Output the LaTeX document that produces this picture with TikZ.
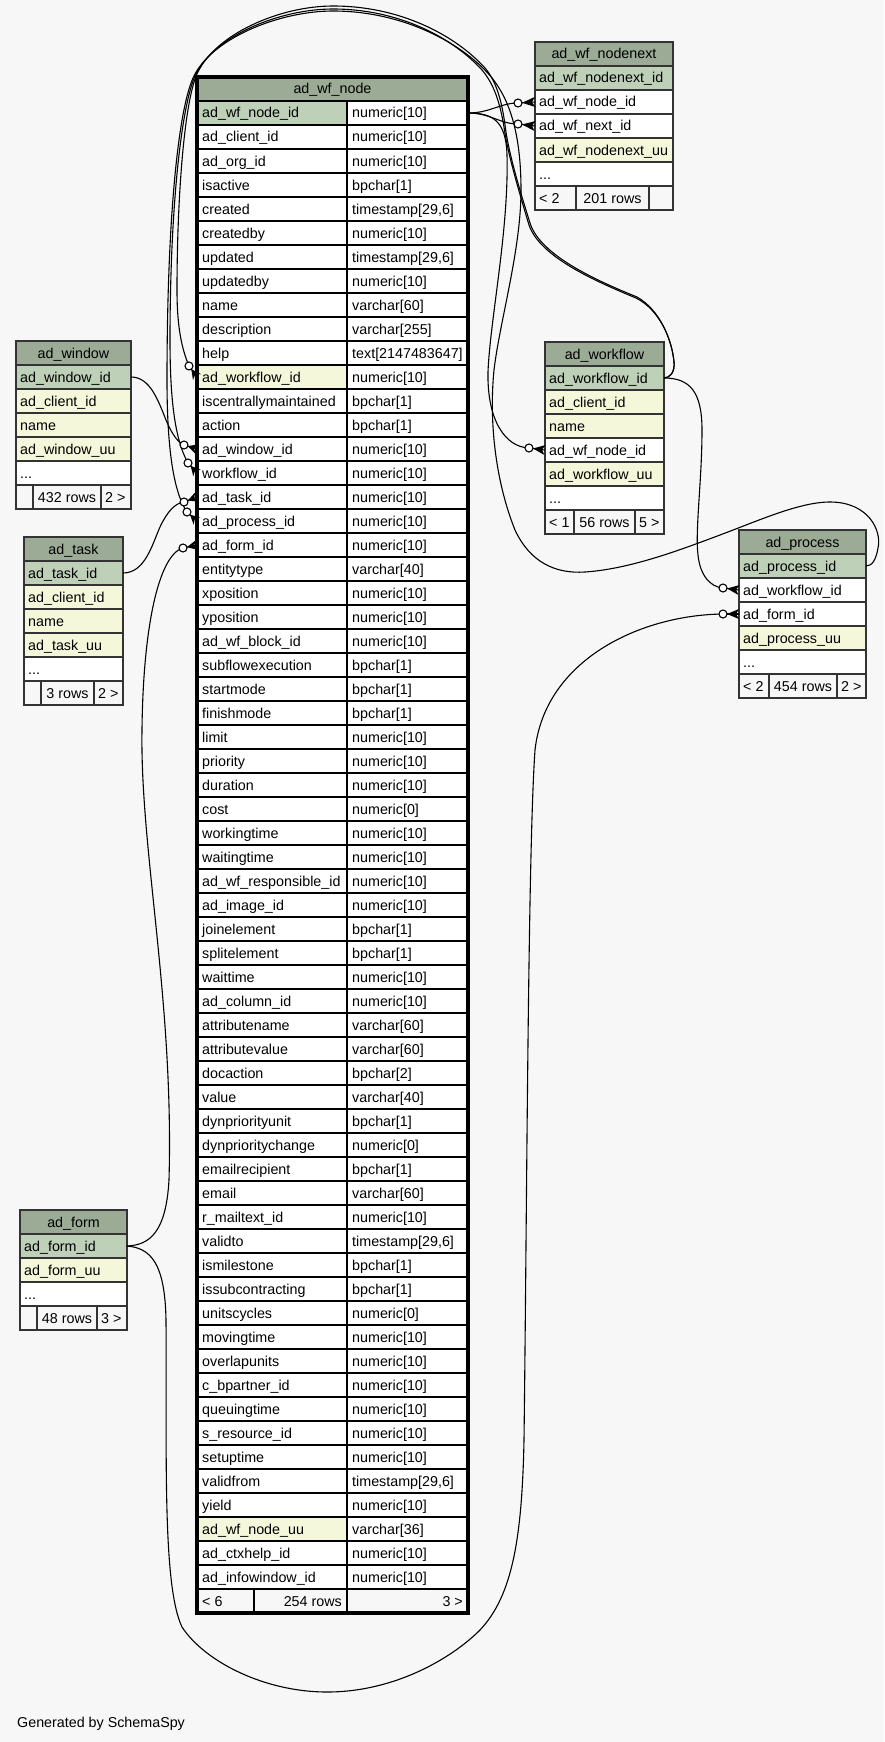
\documentclass[tikz,border=0pt]{standalone}
\usepackage{fontspec}
\setmainfont{Liberation Sans}
\usetikzlibrary{calc}
\definecolor{bgc}{HTML}{F7F7F7}
\definecolor{hdr}{HTML}{9BAB96}
\definecolor{pk}{HTML}{BED1B8}
\definecolor{idx}{HTML}{F4F7DA}
\definecolor{wht}{HTML}{FFFFFF}
\definecolor{ftr}{HTML}{F7F7F7}
\definecolor{sline}{HTML}{333333}
\newcommand\fsz{\fontsize{14.3}{17}\selectfont}
\newcommand\scellrow[6]{%
  \node[scell, minimum width=#4, fill=#5] (#1) at (#2,#3) {};
  \node[ctext] at ([xshift=4pt,yshift=7pt]#1.south west) {#6};}
\newcommand\scellc[6]{%
  \node[scell, minimum width=#4, fill=#5] (#1) at (#2,#3) {};
  \node[ctext, anchor=base] at ([yshift=7pt]#1.south) {#6};}
\newcommand\shead[5]{%
  \node[scell, minimum width=#4, fill=hdr] (#1) at (#2,#3) {};
  \node[ctext, anchor=base] at ([yshift=7pt]#1.south) {#5};}
\newcommand\fkmark[2]{%
  \path ($(#1)!4pt!(#2)$) coordinate (fkV)
        ($(#2)!5pt!90:(#1)$) coordinate (fkP)
        ($(#2)!5pt!-90:(#1)$) coordinate (fkQ)
        ($(#2)!3pt!(#1)$) coordinate (fkM);
  \fill[black] (fkV) -- (fkP) -- (fkM) -- (fkQ) -- cycle;
  \draw[fkline] (fkV) -- (#2);
  \draw[fkline, fill=white] (#1) circle[radius=4pt];}
\begin{document}
\begin{tikzpicture}[x=1pt,y=-1pt,
  mcell/.style={draw=black, line width=2pt, anchor=north west, minimum height=24pt, inner sep=0pt, outer sep=0pt},
  scell/.style={draw=sline, line width=1.6pt, anchor=north west, minimum height=24pt, inner sep=0pt, outer sep=0pt},
  ctext/.style={anchor=base west, inner sep=0pt, font=\fsz, text=black},
  souter/.style={draw=sline, line width=2pt},
  fkline/.style={draw=black, line width=1.1pt}]
\fill[bgc] (0,0) rectangle (884,1742);
\useasboundingbox (0,0) rectangle (884,1742);

% ===== ad_wf_node =====
\node[mcell, minimum width=271, fill=hdr] (mh) at (197,77) {};
\node[ctext, anchor=base] at ([yshift=7pt]mh.south) {ad\_wf\_node};
\foreach \nm/\ty/\cl [count=\i from 0] in {
 ad\_wf\_node\_id/{numeric[10]}/pk,
 ad\_client\_id/{numeric[10]}/wht,
 ad\_org\_id/{numeric[10]}/wht,
 isactive/{bpchar[1]}/wht,
 created/{timestamp[29,6]}/wht,
 createdby/{numeric[10]}/wht,
 updated/{timestamp[29,6]}/wht,
 updatedby/{numeric[10]}/wht,
 name/{varchar[60]}/wht,
 description/{varchar[255]}/wht,
 help/{text[2147483647]}/wht,
 ad\_workflow\_id/{numeric[10]}/idx,
 iscentrallymaintained/{bpchar[1]}/wht,
 action/{bpchar[1]}/wht,
 ad\_window\_id/{numeric[10]}/wht,
 workflow\_id/{numeric[10]}/wht,
 ad\_task\_id/{numeric[10]}/wht,
 ad\_process\_id/{numeric[10]}/wht,
 ad\_form\_id/{numeric[10]}/wht,
 entitytype/{varchar[40]}/wht,
 xposition/{numeric[10]}/wht,
 yposition/{numeric[10]}/wht,
 ad\_wf\_block\_id/{numeric[10]}/wht,
 subflowexecution/{bpchar[1]}/wht,
 startmode/{bpchar[1]}/wht,
 finishmode/{bpchar[1]}/wht,
 limit/{numeric[10]}/wht,
 priority/{numeric[10]}/wht,
 duration/{numeric[10]}/wht,
 cost/{numeric[0]}/wht,
 workingtime/{numeric[10]}/wht,
 waitingtime/{numeric[10]}/wht,
 ad\_wf\_responsible\_id/{numeric[10]}/wht,
 ad\_image\_id/{numeric[10]}/wht,
 joinelement/{bpchar[1]}/wht,
 splitelement/{bpchar[1]}/wht,
 waittime/{numeric[10]}/wht,
 ad\_column\_id/{numeric[10]}/wht,
 attributename/{varchar[60]}/wht,
 attributevalue/{varchar[60]}/wht,
 docaction/{bpchar[2]}/wht,
 value/{varchar[40]}/wht,
 dynpriorityunit/{bpchar[1]}/wht,
 dynprioritychange/{numeric[0]}/wht,
 emailrecipient/{bpchar[1]}/wht,
 email/{varchar[60]}/wht,
 r\_mailtext\_id/{numeric[10]}/wht,
 validto/{timestamp[29,6]}/wht,
 ismilestone/{bpchar[1]}/wht,
 issubcontracting/{bpchar[1]}/wht,
 unitscycles/{numeric[0]}/wht,
 movingtime/{numeric[10]}/wht,
 overlapunits/{numeric[10]}/wht,
 c\_bpartner\_id/{numeric[10]}/wht,
 queuingtime/{numeric[10]}/wht,
 s\_resource\_id/{numeric[10]}/wht,
 setuptime/{numeric[10]}/wht,
 validfrom/{timestamp[29,6]}/wht,
 yield/{numeric[10]}/wht,
 ad\_wf\_node\_uu/{varchar[36]}/idx,
 ad\_ctxhelp\_id/{numeric[10]}/wht,
 ad\_infowindow\_id/{numeric[10]}/wht}{
  \pgfmathsetmacro\yy{101+24*\i}
  \node[mcell, minimum width=150, fill=\cl] (ma\i) at (197,\yy) {};
  \node[ctext] at ([xshift=5pt,yshift=7pt]ma\i.south west) {\nm};
  \node[mcell, minimum width=121, fill=wht] (mb\i) at (347,\yy) {};
  \node[ctext] at ([xshift=5pt,yshift=7pt]mb\i.south west) {\ty};
}
\node[mcell, minimum width=57, fill=ftr] (mf1) at (197,1589) {};
\node[ctext] at ([xshift=5pt,yshift=7pt]mf1.south west) {< 6};
\node[mcell, minimum width=93, fill=ftr] (mf2) at (254,1589) {};
\node[ctext, anchor=base east] at ([xshift=-5pt,yshift=7pt]mf2.south east) {254 rows};
\node[mcell, minimum width=121, fill=ftr] (mf3) at (347,1589) {};
\node[ctext, anchor=base east] at ([xshift=-5pt,yshift=7pt]mf3.south east) {3 >};
\draw[line width=3.5pt] (mh.north west) rectangle (mf3.south east);

% ===== ad_wf_nodenext =====
\shead{nxh}{535}{42}{138}{ad\_wf\_nodenext}
\scellrow{nx1}{535}{66}{138}{pk}{ad\_wf\_nodenext\_id}
\scellrow{nx2}{535}{90}{138}{wht}{ad\_wf\_node\_id}
\scellrow{nx3}{535}{114}{138}{wht}{ad\_wf\_next\_id}
\scellrow{nx4}{535}{138}{138}{idx}{ad\_wf\_nodenext\_uu}
\scellrow{nx5}{535}{162}{138}{wht}{...}
\scellrow{nxf1}{535}{186}{41}{ftr}{< 2}
\scellc{nxf2}{576}{186}{73}{ftr}{201 rows}
\scellrow{nxf3}{649}{186}{24}{ftr}{}
\draw[souter] (nxh.north west) rectangle (nxf3.south east);

% ===== ad_window =====
\shead{wnh}{16}{341}{115}{ad\_window}
\scellrow{wn1}{16}{365}{115}{pk}{ad\_window\_id}
\scellrow{wn2}{16}{389}{115}{idx}{ad\_client\_id}
\scellrow{wn3}{16}{413}{115}{idx}{name}
\scellrow{wn4}{16}{437}{115}{idx}{ad\_window\_uu}
\scellrow{wn5}{16}{461}{115}{wht}{...}
\scellrow{wnf1}{16}{485}{17}{ftr}{}
\scellc{wnf2}{33}{485}{68}{ftr}{432 rows}
\scellrow{wnf3}{101}{485}{30}{ftr}{2 >}
\draw[souter] (wnh.north west) rectangle (wnf3.south east);

% ===== ad_task =====
\shead{tkh}{24}{537}{99}{ad\_task}
\scellrow{tk1}{24}{561}{99}{pk}{ad\_task\_id}
\scellrow{tk2}{24}{585}{99}{idx}{ad\_client\_id}
\scellrow{tk3}{24}{609}{99}{idx}{name}
\scellrow{tk4}{24}{633}{99}{idx}{ad\_task\_uu}
\scellrow{tk5}{24}{657}{99}{wht}{...}
\scellrow{tkf1}{24}{681}{17}{ftr}{}
\scellc{tkf2}{41}{681}{53}{ftr}{3 rows}
\scellrow{tkf3}{94}{681}{29}{ftr}{2 >}
\draw[souter] (tkh.north west) rectangle (tkf3.south east);

% ===== ad_workflow =====
\shead{wfh}{545}{342}{119}{ad\_workflow}
\scellrow{wf1}{545}{366}{119}{pk}{ad\_workflow\_id}
\scellrow{wf2}{545}{390}{119}{idx}{ad\_client\_id}
\scellrow{wf3}{545}{414}{119}{idx}{name}
\scellrow{wf4}{545}{438}{119}{wht}{ad\_wf\_node\_id}
\scellrow{wf5}{545}{462}{119}{idx}{ad\_workflow\_uu}
\scellrow{wf6}{545}{486}{119}{wht}{...}
\scellrow{wff1}{545}{510}{29}{ftr}{< 1}
\scellc{wff2}{574}{510}{61}{ftr}{56 rows}
\scellrow{wff3}{635}{510}{29}{ftr}{5 >}
\draw[souter] (wfh.north west) rectangle (wff3.south east);

% ===== ad_process =====
\shead{prh}{739}{530}{127}{ad\_process}
\scellrow{pr1}{739}{554}{127}{pk}{ad\_process\_id}
\scellrow{pr2}{739}{578}{127}{wht}{ad\_workflow\_id}
\scellrow{pr3}{739}{602}{127}{wht}{ad\_form\_id}
\scellrow{pr4}{739}{626}{127}{idx}{ad\_process\_uu}
\scellrow{pr5}{739}{650}{127}{wht}{...}
\scellrow{prf1}{739}{674}{30}{ftr}{< 2}
\scellc{prf2}{769}{674}{68}{ftr}{454 rows}
\scellrow{prf3}{837}{674}{29}{ftr}{2 >}
\draw[souter] (prh.north west) rectangle (prf3.south east);

% ===== ad_form =====
\shead{fmh}{20}{1210}{107}{ad\_form}
\scellrow{fm1}{20}{1234}{107}{pk}{ad\_form\_id}
\scellrow{fm2}{20}{1258}{107}{idx}{ad\_form\_uu}
\scellrow{fm3}{20}{1282}{107}{wht}{...}
\scellrow{fmf1}{20}{1306}{17}{ftr}{}
\scellc{fmf2}{37}{1306}{60}{ftr}{48 rows}
\scellrow{fmf3}{97}{1306}{30}{ftr}{3 >}
\draw[souter] (fmh.north west) rectangle (fmf3.south east);

\node[ctext] (gen) at (17,1727) {Generated by SchemaSpy};

% ===== connectors =====
\coordinate (c1) at (518,103);
\coordinate (c2) at (518,124);
\coordinate (c3) at (529,448);
\coordinate (c4) at (189,366);
\coordinate (c5) at (188,463);
\coordinate (c6) at (187,512);
\coordinate (c7) at (723,588);
\coordinate (c8) at (723,614);
\coordinate (c9) at (183,548);
\coordinate (c10) at (184,502);
\coordinate (c11) at (184,445);

% nodenext -> wf_node
\draw[fkline] (mb0.east) .. controls (490,113) and (500,103) .. (c1);
\draw[fkline] (mb0.east) .. controls (490,113) and (500,124) .. (c2);
% workflow.ad_wf_node_id -> wf_node
\draw[fkline] (mb0.east) .. controls (492,113) and (506,120) .. (507,155)
  .. controls (509,230) and (490,320) .. (488,372)
  .. controls (487,420) and (505,447) .. (c3);
% wf_node.ad_workflow_id -> workflow
\draw[fkline] (c4) .. controls (180,345) and (177,320) .. (177,290)
  .. controls (177,200) and (184,103) .. (197,74)
  .. controls (215,34) and (280,6) .. (333,6)
  .. controls (400,6) and (455,35) .. (485,68)
  .. controls (497,82) and (502,103) .. (505,125)
  .. controls (508,150) and (518,185) .. (530,223)
  .. controls (540,255) and (595,280) .. (637,297)
  .. controls (660,310) and (672,340) .. (674,362)
  .. controls (675,372) and (670,378) .. (wf1.east);
% wf_node.workflow_id -> workflow
\draw[fkline] (c5) .. controls (175,440) and (170,400) .. (170,340)
  .. controls (170,210) and (181,108) .. (195,76)
  .. controls (213,36) and (280,9) .. (333,9)
  .. controls (398,9) and (452,37) .. (482,70)
  .. controls (494,84) and (500,103) .. (504,127)
  .. controls (507,150) and (517,185) .. (529,225)
  .. controls (540,257) and (595,281) .. (636,298)
  .. controls (660,310) and (672,340) .. (674,362)
  .. controls (675,372) and (670,378) .. (wf1.east);
% wf_node.ad_process_id -> process
\draw[fkline] (c6) .. controls (172,490) and (167,440) .. (167,380)
  .. controls (167,220) and (178,112) .. (193,78)
  .. controls (211,38) and (280,11) .. (333,11)
  .. controls (405,11) and (465,45) .. (492,78)
  .. controls (508,98) and (521,130) .. (521,190)
  .. controls (521,250) and (500,320) .. (494,370)
  .. controls (489,420) and (495,480) .. (515,530)
  .. controls (530,562) and (555,574) .. (585,572)
  .. controls (630,569) and (680,550) .. (720,535)
  .. controls (760,520) and (800,502) .. (830,502)
  .. controls (868,502) and (882,530) .. (878,548)
  .. controls (876,560) and (872,566) .. (pr1.east);
% process.ad_workflow_id -> workflow
\draw[fkline] (wf1.east) .. controls (690,378) and (702,392) .. (702,430)
  .. controls (702,480) and (695,530) .. (698,555)
  .. controls (700,575) and (710,587) .. (c7);
% process.ad_form_id -> form
\draw[fkline] (fm1.east) .. controls (150,1248) and (165,1262) .. (166,1320)
  .. controls (167,1450) and (162,1585) .. (182,1627)
  .. controls (205,1662) and (265,1692) .. (327,1692)
  .. controls (395,1692) and (452,1658) .. (480,1630)
  .. controls (512,1596) and (522,1540) .. (524,1440)
  .. controls (527,1200) and (528,850) .. (535,750)
  .. controls (545,660) and (640,615) .. (c8);
% wf_node.ad_form_id -> form
\draw[fkline] (fm1.east) .. controls (150,1245) and (166,1232) .. (169,1180)
  .. controls (174,1000) and (140,850) .. (142,730)
  .. controls (143,630) and (158,555) .. (c9);
% wf_node.ad_task_id -> task
\draw[fkline] (tk1.east) .. controls (145,573) and (152,545) .. (160,527)
  .. controls (167,512) and (175,503) .. (c10);
% wf_node.ad_window_id -> window
\draw[fkline] (wn1.east) .. controls (150,377) and (158,400) .. (166,420)
  .. controls (171,432) and (177,442) .. (c11);

% markers
\fkmark{c1}{nx2.west}
\fkmark{c2}{nx3.west}
\fkmark{c3}{wf4.west}
\fkmark{c4}{ma11.west}
\fkmark{c5}{ma15.west}
\fkmark{c6}{ma17.west}
\fkmark{c7}{pr2.west}
\fkmark{c8}{pr3.west}
\fkmark{c9}{ma18.west}
\fkmark{c10}{ma16.west}
\fkmark{c11}{ma14.west}
\end{tikzpicture}
\end{document}
